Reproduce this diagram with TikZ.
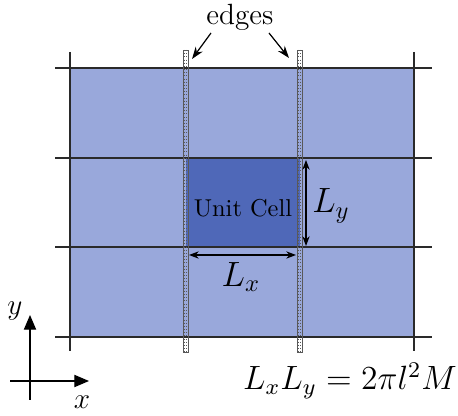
\documentclass[tikz,border=0pt]{standalone}
\usepackage{amsmath,amssymb}
\usetikzlibrary{arrows.meta, positioning, calc}
\definecolor{cellblue}{HTML}{99A8DB}
\definecolor{unitblue}{HTML}{4F68B8}
\definecolor{gridgray}{HTML}{2A2A2A}

\begin{document}
\begin{tikzpicture}[x=0.41pt, y=-0.41pt, line width=0.5pt,
  gridline/.style={gridgray, line width=0.55pt},
  edgestrip/.style={gray!70!black, line width=0.3pt},
  dimarrow/.style={{Stealth[length=4pt]}-{Stealth[length=4pt]}, line width=0.5pt},
  pointer/.style={-{Stealth[length=5pt, width=3.5pt]}, line width=0.5pt}]

% Bounding box
\useasboundingbox (0,0) rectangle (458,416);

% Lattice of cells
\fill[cellblue] (70,68) rectangle (414,337);
\fill[unitblue] (186,158) rectangle (300,247);

% Grid lines
\foreach \y in {68,158,247,337} {
  \draw[gridline] (55,\y) -- (432,\y);
}
\foreach \x in {70,414} {
  \draw[gridline] (\x,52) -- (\x,351);
}

% Edges (thin strips)
\foreach \x in {185.5,299.5} {
  \draw[edgestrip] (\x-2.6,50) rectangle (\x+2.6,352);
  \draw[edgestrip, densely dotted] (\x-1,50) -- (\x-1,352);
  \draw[edgestrip, densely dotted] (\x+1,50) -- (\x+1,352);
}

% Unit cell label
\node (unitlbl) at (243,208) {Unit Cell};

% Edge pointers
\node[font=\large] (edgeslbl) at (240,17) {edges};
\coordinate (edgeLs) at (211,33);
\coordinate (edgeRs) at (269,33);
\coordinate (edgeL) at (192,59);
\coordinate (edgeR) at (289,58);
\draw[pointer] (edgeLs) -- (edgeL);
\draw[pointer] (edgeRs) -- (edgeR);

% Dimensions
\coordinate (lxa) at (189,255);
\coordinate (lxb) at (296,255);
\draw[dimarrow] (lxa) -- (lxb);
\node[font=\Large] (lxlbl) at (241,277) {$L_x$};

\coordinate (lya) at (306,160);
\coordinate (lyb) at (306,246);
\draw[dimarrow] (lya) -- (lyb);
\node[font=\Large] (lylbl) at (331,206) {$L_y$};

% Axes
\coordinate (orig) at (30,381);
\coordinate (xend) at (89,381);
\coordinate (yend) at (30,315);
\draw[-{Triangle[length=6pt, width=5pt]}] ($(orig)+(-20,0)$) -- (xend);
\draw[-{Triangle[length=6pt, width=5pt]}] ($(orig)+(0,19)$) -- (yend);
\node[font=\large] (xlbl) at (82,402) {$x$};
\node[font=\large] (ylbl) at (15,311) {$y$};

% Flux condition
\node[font=\large, scale=1.15] (fluxeq) at (350,381) {$L_xL_y = 2\pi l^2 M$};

\end{tikzpicture}
\end{document}
